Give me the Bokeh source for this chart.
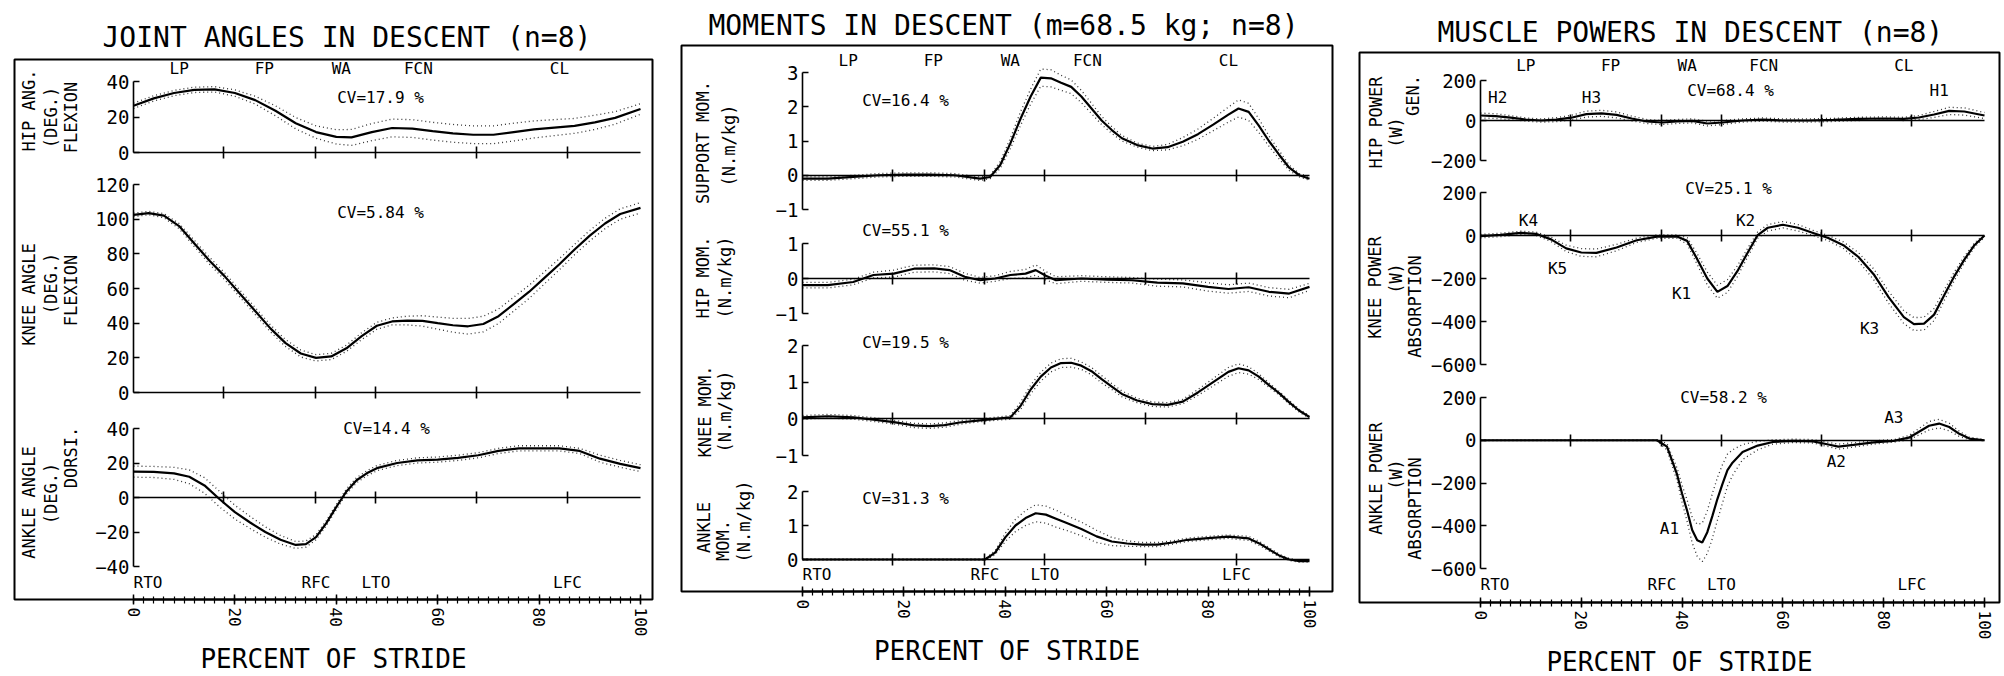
import math
from bokeh.plotting import figure
from bokeh.models import Range1d, LinearAxis, FixedTicker, ColumnDataSource, CustomJSTickFormatter
from bokeh.layouts import row
from bokeh.embed import file_html
from bokeh.resources import INLINE
from bokeh.core.properties import value

# ---------------- data ----------------
phase_names = ["LP", "FP", "WA", "FCN", "CL"]
phase_centres = [9.0, 25.8, 41.0, 56.2, 84.0]
phase_bounds = [17.8, 35.9, 47.8, 67.6, 85.6]
event_names = ["RTO", "RFC", "LTO", "LFC"]
event_pct = [0.0, 36.0, 47.8, 85.6]
stride_ticks = [0, 20, 40, 60, 80, 100]
stride_minor = list(range(0, 101, 2))

# joint angles (deg)
hip_ang_x = [0, 4, 8, 12, 16, 20, 24, 28, 32, 36, 40, 43, 47, 51, 55, 59, 63, 67, 71, 75, 79, 83, 87, 91, 95, 100]
hip_ang_mean = [26.3, 30.5, 33.5, 35.3, 35.6, 33.5, 29.5, 23.5, 16.5, 11.5, 8.8, 8.5, 11.5, 13.8, 13.5, 12.0,
                10.8, 10.0, 10.0, 11.5, 13.0, 14.0, 15.0, 17.0, 19.5, 24.5]
hip_ang_sd = [1.5, 1.5, 1.5, 1.5, 1.5, 1.8, 2.2, 2.8, 3.2, 3.5, 4.0, 4.5, 4.8, 5.0, 5.0, 5.0, 5.0, 5.0, 5.0,
              5.0, 4.8, 4.5, 4.2, 4.0, 3.5, 3.0]

knee_ang_x = [0, 3, 6, 9, 12, 15, 18, 21, 24, 27, 30, 33, 36, 39, 42, 45, 48, 51, 54, 57, 60, 63, 66, 69, 72,
              75, 78, 81, 84, 87, 90, 93, 96, 100]
knee_ang_mean = [102.5, 103.5, 102.0, 96.0, 86.0, 76.0, 67.0, 57.0, 47.0, 37.0, 28.5, 22.5, 20.0, 20.8, 25.5,
                 32.5, 38.5, 41.0, 41.5, 41.3, 40.0, 38.8, 38.2, 39.5, 44.0, 51.0, 58.0, 66.0, 74.0, 82.5,
                 90.5, 97.5, 103.0, 106.5]
knee_ang_sd = [1.0, 1.0, 1.2, 1.5, 1.8, 2.0, 2.0, 2.0, 2.0, 2.0, 2.0, 2.0, 1.8, 1.8, 1.8, 2.0, 2.0, 2.0, 2.5,
               3.0, 3.5, 4.0, 4.5, 4.5, 4.2, 4.0, 3.8, 3.5, 3.2, 3.0, 3.0, 3.0, 3.0, 3.0]

ankle_ang_x = [0, 4, 8, 11, 14, 17, 20, 23, 26, 29, 32, 34, 36, 38, 40, 42, 44, 46, 48, 52, 56, 60, 64, 68, 72,
               76, 80, 84, 88, 92, 96, 100]
ankle_ang_mean = [15.0, 14.8, 14.0, 12.0, 7.0, -1.0, -8.5, -14.5, -20.0, -24.5, -27.5, -27.0, -23.0, -15.0,
                  -5.5, 3.5, 10.0, 14.0, 17.0, 20.0, 21.5, 22.0, 23.0, 24.5, 27.0, 28.5, 28.5, 28.5, 27.0,
                  22.5, 19.5, 17.0]
ankle_ang_sd = [3.2, 3.2, 3.5, 4.0, 4.5, 4.5, 4.0, 3.5, 3.0, 2.5, 2.0, 1.8, 1.5, 1.5, 1.5, 1.5, 1.5, 1.5, 1.5,
                1.5, 1.5, 1.5, 1.5, 1.5, 1.5, 1.5, 1.5, 1.5, 1.5, 2.0, 2.0, 2.0]

# moments (N.m/kg)
support_x = [0, 5, 10, 15, 20, 25, 30, 35, 37, 39, 41, 43, 45, 47, 49, 51, 53, 55, 57, 59, 61, 63, 66, 69, 72,
             75, 78, 81, 84, 86, 88, 90, 92, 94, 96, 98, 100]
support_mean = [-0.1, -0.1, -0.05, 0.0, 0.02, 0.02, 0.0, -0.1, -0.05, 0.3, 0.93, 1.65, 2.3, 2.85, 2.83, 2.7,
                2.58, 2.3, 1.95, 1.6, 1.32, 1.08, 0.88, 0.78, 0.82, 0.98, 1.2, 1.48, 1.77, 1.95, 1.85, 1.45,
                1.0, 0.6, 0.22, 0.0, -0.1]
support_sd = [0.05, 0.05, 0.05, 0.05, 0.05, 0.05, 0.05, 0.05, 0.05, 0.1, 0.15, 0.2, 0.22, 0.25, 0.25, 0.22,
              0.2, 0.18, 0.15, 0.12, 0.1, 0.08, 0.06, 0.06, 0.08, 0.12, 0.15, 0.18, 0.22, 0.25, 0.25, 0.2,
              0.15, 0.12, 0.08, 0.05, 0.05]

hip_mom_x = [0, 5, 10, 14, 18, 22, 26, 29, 32, 35, 38, 41, 44, 46, 48, 50, 55, 60, 65, 70, 75, 80, 84, 88, 92,
             96, 100]
hip_mom_mean = [-0.19, -0.19, -0.1, 0.1, 0.14, 0.28, 0.29, 0.24, 0.05, -0.05, 0.0, 0.1, 0.14, 0.24, 0.08,
                -0.05, 0.0, -0.03, -0.05, -0.12, -0.14, -0.24, -0.3, -0.25, -0.38, -0.43, -0.24]
hip_mom_sd = [0.08, 0.08, 0.08, 0.08, 0.1, 0.1, 0.1, 0.1, 0.1, 0.08, 0.08, 0.1, 0.12, 0.15, 0.12, 0.1, 0.08,
              0.08, 0.08, 0.1, 0.1, 0.12, 0.12, 0.12, 0.12, 0.12, 0.1]

knee_mom_x = [0, 5, 10, 14, 18, 22, 25, 28, 31, 35, 38, 41, 43, 45, 47, 49, 51, 53, 55, 57, 59, 61, 63, 66, 69,
              72, 75, 78, 81, 84, 86, 88, 90, 92, 94, 96, 98, 100]
knee_mom_mean = [0.04, 0.07, 0.04, -0.02, -0.09, -0.18, -0.2, -0.17, -0.1, -0.04, 0.0, 0.04, 0.35, 0.8, 1.15,
                 1.4, 1.52, 1.53, 1.45, 1.3, 1.08, 0.88, 0.68, 0.5, 0.4, 0.38, 0.47, 0.72, 1.0, 1.28, 1.38,
                 1.32, 1.15, 0.92, 0.7, 0.45, 0.22, 0.05]
knee_mom_sd = [0.05, 0.05, 0.05, 0.05, 0.05, 0.06, 0.06, 0.06, 0.05, 0.04, 0.04, 0.05, 0.1, 0.12, 0.12, 0.12,
               0.12, 0.12, 0.1, 0.1, 0.1, 0.08, 0.08, 0.06, 0.06, 0.06, 0.06, 0.08, 0.1, 0.12, 0.12, 0.1,
               0.08, 0.06, 0.05, 0.05, 0.04, 0.04]

ankle_mom_x = [0, 10, 20, 30, 36, 38, 40, 42, 44, 46, 48, 50, 52, 55, 58, 61, 64, 67, 70, 73, 76, 80, 84, 88,
               90, 92, 94, 96, 98, 100]
ankle_mom_mean = [0.0, 0.0, 0.0, 0.0, 0.0, 0.2, 0.65, 1.0, 1.22, 1.36, 1.32, 1.2, 1.08, 0.9, 0.68, 0.53, 0.47,
                  0.44, 0.44, 0.5, 0.58, 0.63, 0.67, 0.62, 0.48, 0.3, 0.12, 0.0, -0.05, -0.05]
ankle_mom_sd = [0.02, 0.02, 0.02, 0.02, 0.02, 0.06, 0.12, 0.18, 0.22, 0.25, 0.25, 0.25, 0.22, 0.2, 0.18, 0.12,
                0.08, 0.06, 0.06, 0.05, 0.05, 0.05, 0.05, 0.06, 0.06, 0.05, 0.04, 0.03, 0.03, 0.03]

# powers (W)
hip_pow_x = [0, 3, 6, 9, 12, 15, 18, 21, 24, 27, 30, 33, 36, 39, 42, 45, 48, 52, 56, 60, 65, 70, 75, 80, 84, 87,
             90, 93, 96, 100]
hip_pow_mean = [25, 22, 14, 5, 0, 4, 14, 32, 36, 28, 10, -5, -10, -5, -2, -15, -10, 0, 5, 0, 0, 3, 8, 10, 8, 15,
                30, 48, 45, 25]
hip_pow_sd = [12, 12, 10, 8, 8, 10, 12, 15, 15, 15, 12, 10, 10, 10, 10, 12, 10, 8, 8, 8, 8, 8, 8, 8, 8, 10, 15,
              18, 18, 15]

knee_pow_x = [0, 4, 8, 11, 14, 17, 20, 23, 27, 31, 35, 39, 41, 43, 45, 47, 49, 51, 53, 55, 57, 60, 63, 66, 69,
              72, 75, 78, 81, 84, 86, 88, 90, 92, 94, 96, 98, 100]
knee_pow_mean = [-3, 3, 12, 8, -18, -60, -79, -81, -56, -22, -5, -5, -25, -110, -200, -262, -235, -165, -80, 2,
                 36, 50, 36, 12, -12, -45, -100, -180, -288, -380, -412, -410, -368, -278, -190, -112, -45, 0]
knee_pow_sd = [8, 8, 8, 8, 10, 15, 18, 18, 15, 10, 8, 8, 15, 25, 30, 30, 30, 25, 20, 15, 15, 15, 15, 12, 12, 15,
               20, 25, 28, 30, 30, 30, 28, 25, 20, 15, 10, 8]

ankle_pow_x = [0, 10, 20, 30, 35, 37, 39, 40, 41, 42, 43, 44, 45, 46, 47, 48, 49, 50, 52, 55, 58, 62, 66, 69, 71,
               74, 78, 82, 85, 87, 89, 91, 93, 95, 97, 100]
ankle_pow_mean = [0, 0, 0, 0, 0, -30, -160, -250, -330, -420, -468, -478, -430, -355, -275, -205, -140, -105,
                  -55, -25, -8, -3, -5, -20, -30, -22, -10, -3, 12, 40, 68, 78, 62, 30, 8, 0]
ankle_pow_sd = [2, 2, 2, 2, 2, 15, 30, 40, 50, 60, 75, 90, 100, 105, 100, 90, 75, 60, 35, 20, 10, 8, 8, 10, 12,
                10, 8, 6, 10, 15, 20, 20, 18, 12, 6, 3]

hip_pow_names = ["H2", "H3", "H1"]
knee_pow_names = ["K4", "K2", "K5", "K1", "K3"]
ankle_pow_names = ["A1", "A2", "A3"]

# ---------------- layout (page pixels) ----------------
FONT = "DejaVu Sans Mono"
PAGE_H = 676

panels = [
    dict(title="JOINT ANGLES IN DESCENT (n=8)", frame=(14, 652, 59, 599), fig_x=(0, 666), x_px=(133, 640),
         title_standoff=12, title_start=102, phase_y=68, event_y=582,
         subs=[
             dict(name="hip", cal=((40, 81), (0, 152)), bounds=(0, 40), ticks=[0, 20, 40],
                  x=hip_ang_x, m=hip_ang_mean, sd=hip_ang_sd,
                  labels=[("HIP ANG.", 28, 110), ("(DEG.)", 50, 117), ("FLEXION", 70, 117)],
                  cv=("CV=17.9 %", 380, 97), marks=None),
             dict(name="knee", cal=((120, 184), (0, 392)), bounds=(0, 120), ticks=[0, 20, 40, 60, 80, 100, 120],
                  x=knee_ang_x, m=knee_ang_mean, sd=knee_ang_sd,
                  labels=[("KNEE ANGLE", 28, 294), ("(DEG.)", 50, 283), ("FLEXION", 70, 290)],
                  cv=("CV=5.84 %", 380, 212), marks=None),
             dict(name="ankle", cal=((40, 428), (-40, 566)), bounds=(-40, 40), ticks=[-40, -20, 0, 20, 40],
                  x=ankle_ang_x, m=ankle_ang_mean, sd=ankle_ang_sd,
                  labels=[("ANKLE ANGLE", 28, 502), ("(DEG.)", 50, 493), ("DORSI.", 70, 457)],
                  cv=("CV=14.4 %", 386, 428), marks=None),
         ]),
    dict(title="MOMENTS IN DESCENT (m=68.5 kg; n=8)", frame=(681, 1332, 45, 591), fig_x=(666, 1345),
         x_px=(802, 1309), title_standoff=8, title_start=708, phase_y=60, event_y=574,
         subs=[
             dict(name="support", cal=((3, 72), (-1, 209)), bounds=(-1, 3), ticks=[-1, 0, 1, 2, 3],
                  x=support_x, m=support_mean, sd=support_sd,
                  labels=[("SUPPORT MOM.", 702, 142), ("(N.m/kg)", 728, 145)],
                  cv=("CV=16.4 %", 905, 100), marks=None),
             dict(name="hip", cal=((1, 243), (-1, 313)), bounds=(-1, 1), ticks=[-1, 0, 1],
                  x=hip_mom_x, m=hip_mom_mean, sd=hip_mom_sd,
                  labels=[("HIP MOM.", 702, 277), ("(N.m/kg)", 724, 277)],
                  cv=("CV=55.1 %", 905, 230), marks=None),
             dict(name="knee", cal=((2, 345), (-1, 455)), bounds=(-1, 2), ticks=[-1, 0, 1, 2],
                  x=knee_mom_x, m=knee_mom_mean, sd=knee_mom_sd,
                  labels=[("KNEE MOM.", 704, 411), ("(N.m/kg)", 724, 411)],
                  cv=("CV=19.5 %", 905, 342), marks=None),
             dict(name="ankle", cal=((2, 491), (0, 559)), bounds=(0, 2), ticks=[0, 1, 2],
                  x=ankle_mom_x, m=ankle_mom_mean, sd=ankle_mom_sd,
                  labels=[("ANKLE", 703, 527), ("MOM.", 722, 540), ("(N.m/kg)", 743, 521)],
                  cv=("CV=31.3 %", 905, 498), marks=None),
         ]),
    dict(title="MUSCLE POWERS IN DESCENT (n=8)", frame=(1359, 1999, 52, 602), fig_x=(1345, 2004),
         x_px=(1480, 1984), title_standoff=7, title_start=1437, phase_y=65, event_y=584,
         subs=[
             dict(name="hip", cal=((200, 80), (-200, 160)), bounds=(-200, 200), ticks=[-200, 0, 200],
                  x=hip_pow_x, m=hip_pow_mean, sd=hip_pow_sd,
                  labels=[("HIP POWER", 1375, 122), ("(W)", 1395, 132), ("GEN.", 1412, 95)],
                  cv=("CV=68.4 %", 1730, 90),
                  marks=(hip_pow_names, [3.4, 22.0, 91.0], [97, 97, 90])),
             dict(name="knee", cal=((200, 192), (-600, 364)), bounds=(-600, 200),
                  ticks=[-600, -400, -200, 0, 200],
                  x=knee_pow_x, m=knee_pow_mean, sd=knee_pow_sd,
                  labels=[("KNEE POWER", 1374, 287), ("(W)", 1395, 278), ("ABSORPTION", 1414, 306)],
                  cv=("CV=25.1 %", 1728, 188),
                  marks=(knee_pow_names, [9.5, 52.6, 15.3, 39.9, 77.2], [220, 220, 268, 293, 328])),
             dict(name="ankle", cal=((200, 397), (-600, 568)), bounds=(-600, 200),
                  ticks=[-600, -400, -200, 0, 200],
                  x=ankle_pow_x, m=ankle_pow_mean, sd=ankle_pow_sd,
                  labels=[("ANKLE POWER", 1375, 478), ("(W)", 1395, 474), ("ABSORPTION", 1414, 508)],
                  cv=("CV=58.2 %", 1723, 397),
                  marks=(ankle_pow_names, [37.5, 70.6, 82.0], [528, 461, 417])),
         ]),
]


def txt(p, xs, ys, texts, rng, size, align="center", angle=0.0):
    p.text(x=xs, y=ys, text=texts, y_range_name=rng, angle=angle,
           text_font=value(FONT), text_font_size=size, text_color="black",
           text_align=align, text_baseline="middle")


def make_panel(spec):
    L, R, T, B = spec["frame"]
    x0p, x100p = spec["x_px"]
    k = (x100p - x0p) / 100.0

    def px2x(px):
        return (px - x0p) / k

    cal = {}
    extra = {}
    for sub in spec["subs"]:
        (v1, y1), (v2, y2) = sub["cal"]
        s = (v2 - v1) / (y2 - y1)
        f = (lambda py, v1=v1, y1=y1, s=s: v1 + s * (py - y1))
        cal[sub["name"]] = f
        extra[sub["name"]] = Range1d(f(B), f(T))

    fx0, fx1 = spec["fig_x"]
    p = figure(frame_width=R - L, frame_height=B - T,
               x_range=Range1d(px2x(L), px2x(R)), y_range=Range1d(0, 1),
               min_border_left=L - fx0, min_border_right=fx1 - R,
               min_border_top=T, min_border_bottom=PAGE_H - B,
               toolbar_location=None, output_backend="svg", y_axis_location=None,
               background_fill_color="white", border_fill_color="white")
    try:
        p.frame_align = False
    except Exception:
        pass
    p.extra_y_ranges = extra
    p.outline_line_color = "black"
    p.outline_line_width = 2
    p.xgrid.visible = False
    p.ygrid.visible = False

    p.title.text = spec["title"]
    p.title.align = "left"
    p.title.offset = spec["title_start"] - L
    p.title.text_font = FONT
    p.title.text_font_size = "28px"
    p.title.text_font_style = "normal"
    p.title.text_color = "black"
    p.title.standoff = spec["title_standoff"]

    xa = p.xaxis[0]
    xa.ticker = FixedTicker(ticks=stride_ticks, minor_ticks=stride_minor)
    xa.bounds = (0, 100)
    xa.major_label_orientation = "vertical"
    xa.major_label_text_font = FONT
    xa.major_label_text_font_size = "16px"
    xa.major_label_text_color = "black"
    xa.major_label_standoff = 3
    xa.major_tick_in = 5
    xa.major_tick_out = 5
    xa.minor_tick_in = 3
    xa.minor_tick_out = 4
    xa.axis_line_width = 2
    xa.major_tick_line_width = 1.5
    xa.minor_tick_line_width = 1.2
    xa.axis_label = "PERCENT OF STRIDE"
    xa.axis_label_text_font = FONT
    xa.axis_label_text_font_size = "26px"
    xa.axis_label_text_font_style = "normal"
    xa.axis_label_text_color = "black"
    xa.axis_label_standoff = 5

    for sub in spec["subs"]:
        name = sub["name"]
        f = cal[name]
        # y axis of the sub plot
        ya = LinearAxis(y_range_name=name, fixed_location=0, bounds=sub["bounds"],
                        ticker=FixedTicker(ticks=sub["ticks"]),
                        major_tick_in=6, major_tick_out=0, minor_tick_line_color=None,
                        axis_line_width=1.6, major_tick_line_width=1.6,
                        major_label_text_font=FONT, major_label_text_font_size="19px",
                        major_label_text_color="black", major_label_standoff=4)
        p.add_layout(ya, "left")
        # zero line with phase-boundary crosses
        za = LinearAxis(y_range_name=name, fixed_location=0, bounds=(0, 100),
                        ticker=FixedTicker(ticks=phase_bounds),
                        formatter=CustomJSTickFormatter(code="return ''"),
                        major_tick_in=6, major_tick_out=6, minor_tick_line_color=None,
                        axis_line_width=1.6, major_tick_line_width=1.6,
                        major_label_text_font_size="1px")
        p.add_layout(za, "below")

        m = sub["m"]
        sd = sub["sd"]
        src = ColumnDataSource(dict(x=sub["x"], m=m,
                                    up=[a + b for a, b in zip(m, sd)],
                                    lo=[a - b for a, b in zip(m, sd)]))
        for col in ("up", "lo"):
            p.line("x", col, source=src, y_range_name=name, line_color="#333333",
                   line_width=1.3, line_dash="1 3")
        p.line("x", "m", source=src, y_range_name=name, line_color="black", line_width=2.2)

        # vertical axis titles
        for t, px, py in sub["labels"]:
            txt(p, [px2x(px)], [f(py)], [t], name, "17px", angle=math.pi / 2)
        t, px, py = sub["cv"]
        txt(p, [px2x(px)], [f(py)], [t], name, "16px")
        if sub["marks"] is not None:
            names, xs, pys = sub["marks"]
            txt(p, xs, [f(v) for v in pys], names, name, "16px")

    top = spec["subs"][0]["name"]
    bot = spec["subs"][-1]["name"]
    fy = cal[top](spec["phase_y"])
    txt(p, phase_centres, [fy] * len(phase_centres), phase_names, top, "16px")
    fe = cal[bot](spec["event_y"])
    txt(p, event_pct[:1], [fe], event_names[:1], bot, "16px", align="left")
    txt(p, event_pct[1:], [fe] * 3, event_names[1:], bot, "16px")
    return p


figs = [make_panel(s) for s in panels]
layout = row(*figs, spacing=0)
open("out.html", "w").write(file_html(layout, INLINE))
